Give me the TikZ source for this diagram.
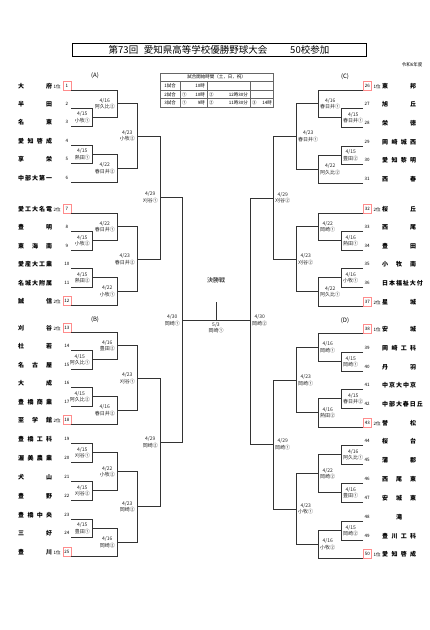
\documentclass[tikz,border=0pt]{standalone}
\usepackage{fontspec}
\setmainfont{Noto Sans CJK JP}
\usetikzlibrary{positioning}

\begin{document}
\begin{tikzpicture}[x=1pt, y=-1pt,
  line/.style={draw=black!80, line width=0.55pt},
  grid/.style={draw=black!60, line width=0.4pt},
  numL/.style={anchor=south east, minimum width=8pt, minimum height=8.5pt, inner sep=1pt, font=\fontsize{4.5}{5}\selectfont},
  numR/.style={numL, anchor=south west},
  plain/.style={},
  seed/.style={draw=red!45, line width=0.5pt},
  teamL/.style={anchor=west, inner sep=0pt, font=\bfseries\fontsize{6}{6}\selectfont},
  resL/.style={anchor=east, align=center, inner xsep=2pt, inner ysep=0pt, font=\fontsize{5}{6.5}\selectfont, text=black!85},
  resR/.style={resL, anchor=west},
  small/.style={inner sep=0pt, font=\fontsize{4.5}{5}\selectfont},
  block/.style={inner sep=0pt, font=\fontsize{6}{6}\selectfont}]

\useasboundingbox (0,0) rectangle (430,630);

% title and table
\node[draw, line width=0.5pt, minimum width=294pt, minimum height=13pt, inner sep=0pt,
  font=\fontsize{9.5}{10}\selectfont] (title) at (219,49.5)
  {第73回\hspace{0.6em}愛知県高等学校優勝野球大会\hspace{2.4em}50校参加};
\node[small] (year) at (412,65) {令和6年度};

\draw[grid] (160,73) rectangle (273,107);
\draw[grid] (160,81.5) -- (273,81.5) (160,90) -- (273,90) (160,98.5) -- (273,98.5);
\draw[grid] (180,81.5) -- (180,107) (207,81.5) -- (207,107) (250,81.5) -- (250,107);
\node[small] (thead) at (216.5,77.3) {試合開始時間（土，日，祝）};
\node[small] (g1) at (170,85.8) {1試合};
\node[small] (g2) at (170,94.3) {2試合};
\node[small] (g3) at (170,102.8) {3試合};
\node[small, anchor=east] (g1a) at (205,85.8) {10時};
\node[small, anchor=west] (g2n) at (182,94.3) {①};
\node[small, anchor=east] (g2a) at (205,94.3) {10時};
\node[small, anchor=west] (g2m) at (209,94.3) {②};
\node[small, anchor=east] (g2b) at (248,94.3) {12時30分};
\node[small, anchor=west] (g3n) at (182,102.8) {①};
\node[small, anchor=east] (g3a) at (205,102.8) {9時};
\node[small, anchor=west] (g3m) at (209,102.8) {②};
\node[small, anchor=east] (g3b) at (248,102.8) {11時30分};
\node[small, anchor=west] (g3o) at (252,102.8) {③};
\node[small, anchor=east] (g3c) at (272,102.8) {14時};

\node[block] (blockA) at (95,76) {(A)};
\node[block] (blockB) at (95,320) {(B)};
\node[block] (blockC) at (345,77) {(C)};
\node[block] (blockD) at (345,321) {(D)};

% left teams
\foreach \i/\ly/\nm/\sd/\bx in {
  1/90/大 府/1位/seed, 2/108/半 田//plain, 3/126/名 東//plain,
  4/145/愛 知 啓 成//plain, 5/163/享 栄//plain, 6/182/中 部 大 第 一//plain,
  7/213/愛 工 大 名 電/2位/seed, 8/231/豊 明//plain, 9/250/東 海 南//plain,
  10/268/愛 産 大 工 業//plain, 11/287/名 城 大 附 属//plain, 12/305/誠 信/2位/seed,
  13/332/刈 谷/2位/seed, 14/350/杜 若//plain, 15/369/名 古 屋//plain,
  16/387/大 成//plain, 17/406/豊 橋 商 業//plain, 18/424/至 学 館/2位/seed,
  19/443/豊 橋 工 科//plain, 20/462/渥 美 農 業//plain, 21/481/犬 山//plain,
  22/500/豊 野//plain, 23/519/豊 橋 中 央//plain, 24/537/三 好//plain,
  25/556/豊 川/1位/seed}
{
  \node[teamL] (tm\i) at (18,\ly-4)
    {\makebox[34pt][s]{\nm}\makebox[10pt]{\mdseries\fontsize{4.5}{5}\selectfont\sd}};
  \node[numL,\bx] (n\i) at (71,\ly) {\i};
}

% right teams
\foreach \i/\ly/\nm/\sd/\bx in {
  26/90/東 邦/1位/seed, 27/108/旭 丘//plain, 28/127/栄 徳//plain,
  29/146/岡 崎 城 西//plain, 30/164/愛 知 黎 明//plain, 31/183/西 春//plain,
  32/213/桜 丘/2位/seed, 33/231/西 尾//plain, 34/250/豊 田//plain,
  35/268/小 牧 南//plain, 36/287/日 本 福 祉 大 付//plain, 37/306/星 城/2位/seed,
  38/333/安 城/1位/seed, 39/352/岡 崎 工 科//plain, 40/371/丹 羽//plain,
  41/389/中 京 大 中 京//plain, 42/408/中 部 大 春 日 丘//plain, 43/427/誉 松/2位/seed,
  44/445/桜 台//plain, 45/464/蒲 郡//plain, 46/483/西 尾 東//plain,
  47/502/安 城 東//plain, 48/521/\hfil 滝\hfil//plain, 49/540/豊 川 工 科//plain,
  50/558/愛 知 啓 成/1位/seed}
{
  \node[numR,\bx] (n\i) at (363,\ly) {\i};
  \node[teamL] (tm\i) at (372,\ly-4)
    {\makebox[10pt]{\mdseries\fontsize{4.5}{5}\selectfont\sd}\makebox[34pt][s]{\nm}};
}

% (A)
\coordinate (w2) at (92,117);
\coordinate (w1) at (117,103.75);
\coordinate (w4) at (92,154);
\coordinate (w6) at (117,168);
\coordinate (wA1) at (137,135.9);
\coordinate (w8) at (92,240.5);
\coordinate (w7) at (117,226.75);
\coordinate (w10) at (92,277.5);
\coordinate (w12) at (117,291.25);
\coordinate (wA2) at (137,259);
\coordinate (wA) at (160,197.4);
% (B)
\coordinate (w14) at (92,359.5);
\coordinate (w13) at (117,345.75);
\coordinate (w16) at (92,396.5);
\coordinate (w18) at (117,410.25);
\coordinate (wB1) at (137,378);
\coordinate (w19) at (92,452.5);
\coordinate (w21) at (92,490.5);
\coordinate (w22) at (117,471.5);
\coordinate (w23) at (92,528);
\coordinate (w25) at (117,542);
\coordinate (wB2) at (137,506.75);
\coordinate (wB) at (160,442.4);
\coordinate (wL) at (182,320);
% (C)
\coordinate (w27) at (341,117.5);
\coordinate (w26) at (318,103.75);
\coordinate (w29) at (341,155);
\coordinate (w31) at (318,169);
\coordinate (wC1) at (296,136.4);
\coordinate (w33) at (341,240.5);
\coordinate (w32) at (318,226.75);
\coordinate (w35) at (341,277.5);
\coordinate (w37) at (318,291.75);
\coordinate (wC2) at (296,259.25);
\coordinate (wC) at (273,197.8);
% (D)
\coordinate (w39) at (341,361.5);
\coordinate (w38) at (318,347.25);
\coordinate (w41) at (341,398.5);
\coordinate (w43) at (318,412.75);
\coordinate (wD1) at (296,380);
\coordinate (w44) at (341,454.5);
\coordinate (w46) at (341,492.5);
\coordinate (w47) at (318,473.5);
\coordinate (w48) at (341,530.5);
\coordinate (w50) at (318,544.25);
\coordinate (wD2) at (296,508.9);
\coordinate (wD) at (273,444.4);
\coordinate (wR) at (250,320);
% final
\coordinate (fin) at (216,320);
\coordinate (stem) at (216,302);

\draw[line] (n2.south east) -| (w2) (n3.south east) -| (w2);
\draw[line] (n1.south east) -| (w1) (w2) -| (w1);
\draw[line] (n4.south east) -| (w4) (n5.south east) -| (w4);
\draw[line] (w4) -| (w6) (n6.south east) -| (w6);
\draw[line] (w1) -| (wA1) (w6) -| (wA1);
\draw[line] (n8.south east) -| (w8) (n9.south east) -| (w8);
\draw[line] (n7.south east) -| (w7) (w8) -| (w7);
\draw[line] (n10.south east) -| (w10) (n11.south east) -| (w10);
\draw[line] (w10) -| (w12) (n12.south east) -| (w12);
\draw[line] (w7) -| (wA2) (w12) -| (wA2);
\draw[line] (wA1) -| (wA) (wA2) -| (wA);

\draw[line] (n14.south east) -| (w14) (n15.south east) -| (w14);
\draw[line] (n13.south east) -| (w13) (w14) -| (w13);
\draw[line] (n16.south east) -| (w16) (n17.south east) -| (w16);
\draw[line] (w16) -| (w18) (n18.south east) -| (w18);
\draw[line] (w13) -| (wB1) (w18) -| (wB1);
\draw[line] (n19.south east) -| (w19) (n20.south east) -| (w19);
\draw[line] (n21.south east) -| (w21) (n22.south east) -| (w21);
\draw[line] (w19) -| (w22) (w21) -| (w22);
\draw[line] (n23.south east) -| (w23) (n24.south east) -| (w23);
\draw[line] (w23) -| (w25) (n25.south east) -| (w25);
\draw[line] (w22) -| (wB2) (w25) -| (wB2);
\draw[line] (wB1) -| (wB) (wB2) -| (wB);
\draw[line] (wA) -| (wL) (wB) -| (wL);

\draw[line] (n27.south west) -| (w27) (n28.south west) -| (w27);
\draw[line] (n26.south west) -| (w26) (w27) -| (w26);
\draw[line] (n29.south west) -| (w29) (n30.south west) -| (w29);
\draw[line] (w29) -| (w31) (n31.south west) -| (w31);
\draw[line] (w26) -| (wC1) (w31) -| (wC1);
\draw[line] (n33.south west) -| (w33) (n34.south west) -| (w33);
\draw[line] (n32.south west) -| (w32) (w33) -| (w32);
\draw[line] (n35.south west) -| (w35) (n36.south west) -| (w35);
\draw[line] (w35) -| (w37) (n37.south west) -| (w37);
\draw[line] (w32) -| (wC2) (w37) -| (wC2);
\draw[line] (wC1) -| (wC) (wC2) -| (wC);

\draw[line] (n39.south west) -| (w39) (n40.south west) -| (w39);
\draw[line] (n38.south west) -| (w38) (w39) -| (w38);
\draw[line] (n41.south west) -| (w41) (n42.south west) -| (w41);
\draw[line] (w41) -| (w43) (n43.south west) -| (w43);
\draw[line] (w38) -| (wD1) (w43) -| (wD1);
\draw[line] (n44.south west) -| (w44) (n45.south west) -| (w44);
\draw[line] (n46.south west) -| (w46) (n47.south west) -| (w46);
\draw[line] (w44) -| (w47) (w46) -| (w47);
\draw[line] (n48.south west) -| (w48) (n49.south west) -| (w48);
\draw[line] (w48) -| (w50) (n50.south west) -| (w50);
\draw[line] (w47) -| (wD2) (w50) -| (wD2);
\draw[line] (wD1) -| (wD) (wD2) -| (wD);
\draw[line] (wC) -| (wR) (wD) -| (wR);

\draw[line] (wL) -- (wR);
\draw[line] (fin) -- (stem);
\node[block] (final) at (216,280) {決勝戦};
\node[resL, anchor=north] (rfin) at (216,322) {5/3\\岡崎①};

% results, left
\node[resL] (r2) at (w2) {4/15\\小牧①};
\node[resL] (r1) at (w1) {4/16\\阿久比②};
\node[resL] (r4) at (w4) {4/15\\熱田①};
\node[resL] (r6) at (w6) {4/22\\春日井②};
\node[resL] (rA1) at (wA1) {4/23\\小牧②};
\node[resL] (r8) at (w8) {4/15\\小牧②};
\node[resL] (r7) at (w7) {4/22\\春日井①};
\node[resL] (r10) at (w10) {4/15\\熱田②};
\node[resL] (r12) at (w12) {4/22\\小牧①};
\node[resL] (rA2) at (wA2) {4/23\\春日井②};
\node[resL] (rA) at (wA) {4/29\\刈谷①};
\node[resL] (r14) at (w14) {4/15\\阿久比①};
\node[resL] (r13) at (w13) {4/16\\豊田②};
\node[resL] (r16) at (w16) {4/15\\阿久比②};
\node[resL] (r18) at (w18) {4/16\\春日井②};
\node[resL] (rB1) at (wB1) {4/23\\刈谷①};
\node[resL] (r19) at (w19) {4/15\\刈谷①};
\node[resL] (r21) at (w21) {4/15\\刈谷②};
\node[resL] (r22) at (w22) {4/22\\小牧②};
\node[resL] (r23) at (w23) {4/15\\豊田①};
\node[resL] (r25) at (w25) {4/16\\岡崎②};
\node[resL] (rB2) at (wB2) {4/23\\岡崎②};
\node[resL] (rB) at (wB) {4/29\\岡崎②};
\node[resL] (rL) at (wL) {4/30\\岡崎①};
% results, right
\node[resR] (r27) at (w27) {4/15\\春日井①};
\node[resR] (r26) at (w26) {4/16\\春日井①};
\node[resR] (r29) at (w29) {4/15\\豊田②};
\node[resR] (r31) at (w31) {4/22\\阿久比②};
\node[resR] (rC1) at (wC1) {4/23\\春日井①};
\node[resR] (r33) at (w33) {4/16\\熱田①};
\node[resR] (r32) at (w32) {4/22\\岡崎①};
\node[resR] (r35) at (w35) {4/16\\小牧①};
\node[resR] (r37) at (w37) {4/22\\阿久比①};
\node[resR] (rC2) at (wC2) {4/23\\刈谷②};
\node[resR] (rC) at (wC) {4/29\\刈谷②};
\node[resR] (r39) at (w39) {4/15\\岡崎①};
\node[resR] (r38) at (w38) {4/16\\岡崎①};
\node[resR] (r41) at (w41) {4/15\\春日井②};
\node[resR] (r43) at (w43) {4/16\\熱田②};
\node[resR] (rD1) at (wD1) {4/23\\岡崎①};
\node[resR] (r44) at (w44) {4/16\\阿久比①};
\node[resR] (r46) at (w46) {4/16\\豊田①};
\node[resR] (r47) at (w47) {4/22\\岡崎②};
\node[resR] (r48) at (w48) {4/15\\岡崎②};
\node[resR] (r50) at (w50) {4/16\\小牧②};
\node[resR] (rD2) at (wD2) {4/23\\小牧①};
\node[resR] (rD) at (wD) {4/29\\岡崎①};
\node[resR] (rR) at (wR) {4/30\\岡崎②};

\end{tikzpicture}
\end{document}
